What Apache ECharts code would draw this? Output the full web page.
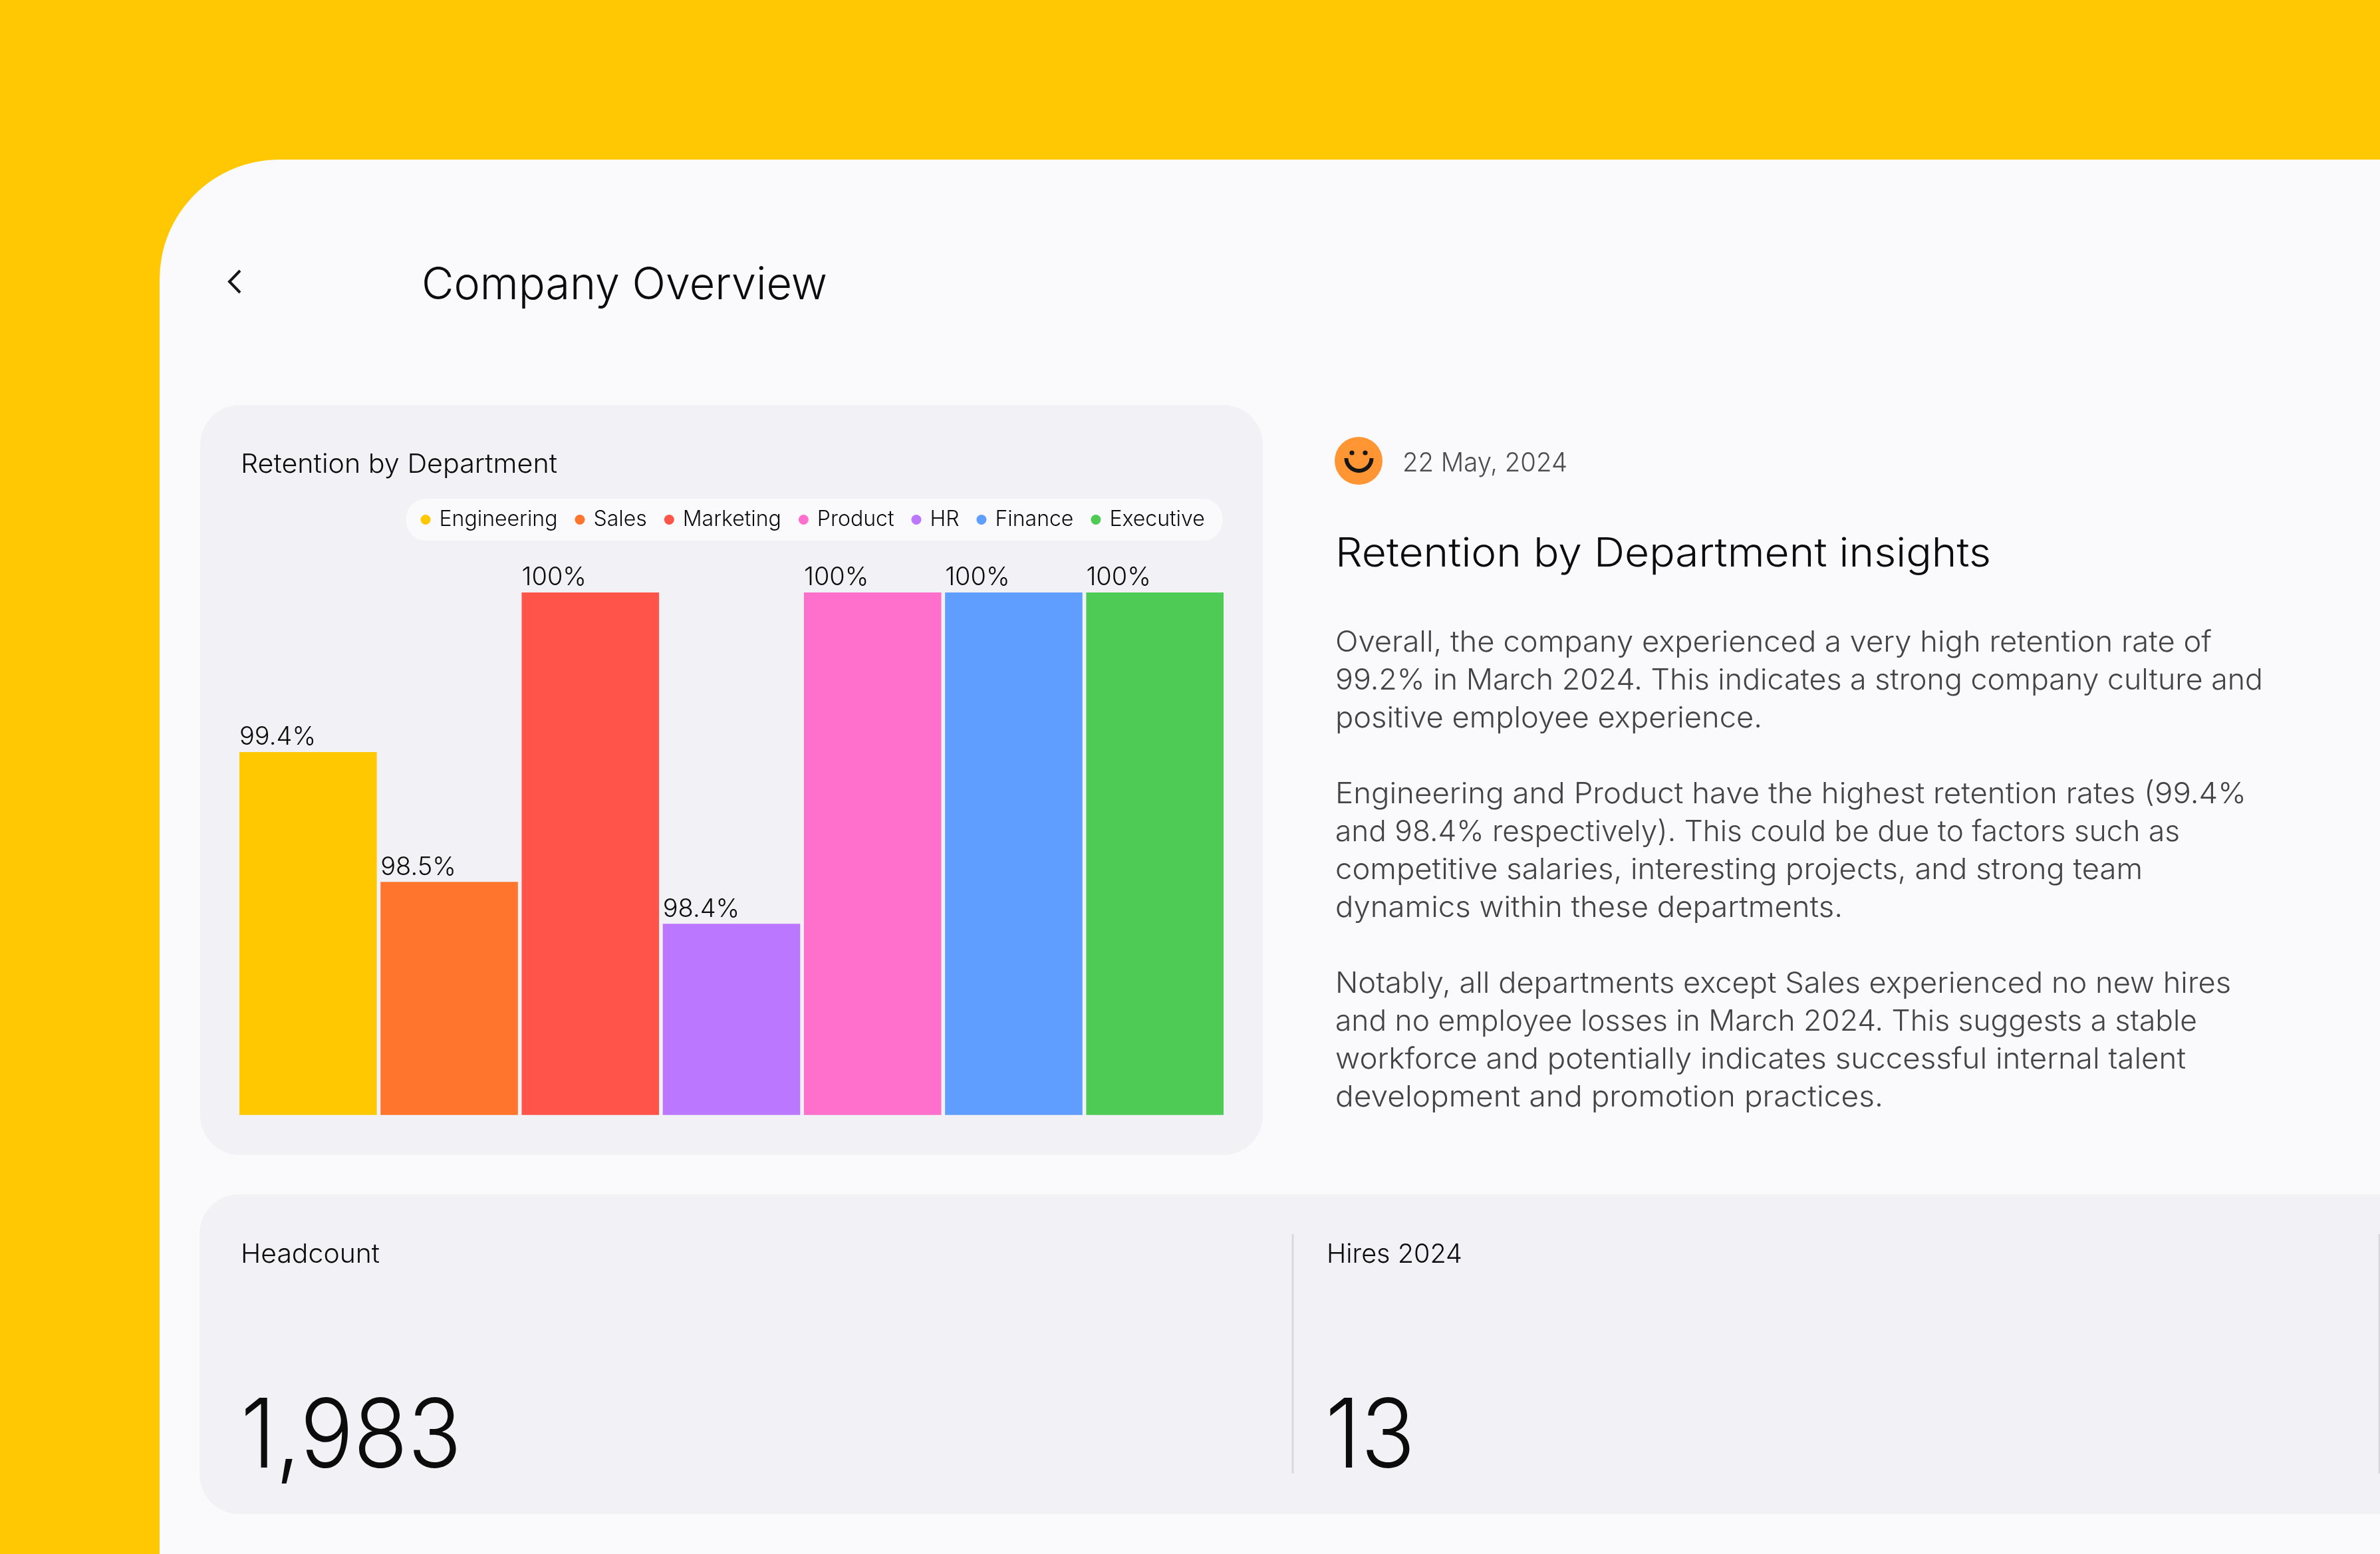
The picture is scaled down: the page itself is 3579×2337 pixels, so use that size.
<!DOCTYPE html>
<html><head><meta charset="utf-8">
<style>html,body{margin:0;padding:0;background:#FFC803}#c{width:3579px;height:2337px}</style>
<script src="https://cdn.jsdelivr.net/npm/echarts@6/dist/echarts.min.js"></script>
</head><body><div id="c"></div>
<script>
// Department order along the axis
const departments = ['Engineering','Sales','Marketing','HR','Product','Finance','Executive'];
// Legend order in the picture
const legendOrder = ['Engineering','Sales','Marketing','Product','HR','Finance','Executive'];
// Drawn bar height as share of the tallest bar
const barHeights = [69.45,44.6,100,36.6,100,100,100];
// Printed labels above the bars
const barLabels = ['99.4%','98.5%','100%','98.4%','100%','100%','100%'];
const barColors = ['#FFC800','#FF752D','#FF5449','#BB77FF','#FF70CC','#5F9DFF','#4ECB55'];
const title = 'Company Overview';
const cardTitle = 'Retention by Department';
const dateText = '22 May, 2024';
const insightsTitle = 'Retention by Department insights';
const insightLines = [
 'Overall, the company experienced a very high retention rate of',
 '99.2% in March 2024. This indicates a strong company culture and',
 'positive employee experience.',
 '',
 'Engineering and Product have the highest retention rates (99.4%',
 'and 98.4% respectively). This could be due to factors such as',
 'competitive salaries, interesting projects, and strong team',
 'dynamics within these departments.',
 '',
 'Notably, all departments except Sales experienced no new hires',
 'and no employee losses in March 2024. This suggests a stable',
 'workforce and potentially indicates successful internal talent',
 'development and promotion practices.'
];
// Right end of each line in the picture
const insightLineEnds = [3326,3403,2650,0,3378,3278,3222,2771,0,3355,3304,3287,2832];
const kpiNames = ['Headcount','Hires 2024'];
const kpiValues = ['1,983','13'];

const FONT = 'Inter';
const ctx = document.createElement('canvas').getContext('2d');
function measure(text,size,weight){ ctx.font = weight+' '+size+'px '+FONT; return ctx.measureText(text).width; }
// sx: horizontal fit factor so the line keeps the picture's width
function txt(text,x,base,size,weight,fill,sx){
  return {type:'text',z:1,silent:true,x,y:base-size*0.30,scaleX:sx,scaleY:1,
    style:{text,x:0,y:0,fontFamily:FONT,fontSize:size,fontWeight:weight,fill,verticalAlign:'middle',align:'left'}};
}
function fit(text,size,weight,width){ return width/measure(text,size,weight); }
const g = [
 {type:'rect',z:0,silent:true,shape:{x:240,y:240,width:3600,height:2400,r:180},style:{fill:'#FAFAFC'}},
 {type:'rect',z:0,silent:true,shape:{x:301,y:609,width:1598,height:1128,r:60},style:{fill:'#F2F2F6'}},
 {type:'rect',z:0,silent:true,shape:{x:300,y:1796,width:3500,height:481,r:60},style:{fill:'#F2F2F6'}},
 {type:'line',z:1,silent:true,shape:{x1:1944,y1:1856,x2:1944,y2:2216},style:{stroke:'#D9D9DD',lineWidth:3}},
 {type:'line',z:1,silent:true,shape:{x1:3578,y1:1856,x2:3578,y2:2216},style:{stroke:'#D9D9DD',lineWidth:3}},
 {type:'polyline',z:1,silent:true,shape:{points:[[361,407],[345,423.5],[361,440]]},style:{stroke:'#161616',lineWidth:4,fill:null}},
 {type:'circle',z:1,silent:true,shape:{cx:2043,cy:693,r:36},style:{fill:'#FF9533'}},
 {type:'circle',z:1,silent:true,shape:{cx:2033,cy:681,r:3.6},style:{fill:'#161616'}},
 {type:'circle',z:1,silent:true,shape:{cx:2053,cy:681,r:3.6},style:{fill:'#161616'}},
 {type:'arc',z:1,silent:true,shape:{cx:2043.5,cy:689,r:19,startAngle:0,endAngle:Math.PI,clockwise:true},style:{stroke:'#161616',lineWidth:6,fill:null}},
 txt(title,634,450,67,300,'#0c0c0c',fit(title,67,300,610)),
 txt(cardTitle,362,711,40,300,'#0c0c0c',fit(cardTitle,40,300,476)),
 txt(dateText,2109,709,40,300,'#4c4c51',fit(dateText,40,300,248)),
 txt(insightsTitle,2008,852,60,300,'#0c0c0c',fit(insightsTitle,60,300,986)),
 txt(kpiNames[0],362,1899,40,300,'#0c0c0c',fit(kpiNames[0],40,300,209)),
 txt(kpiNames[1],1995,1899,40,300,'#0c0c0c',fit(kpiNames[1],40,300,204)),
 txt(kpiValues[0],362,2207,144,300,'#0c0c0c',fit(kpiValues[0],144,300,332)),
 txt(kpiValues[1],1993,2207,144,300,'#0c0c0c',fit(kpiValues[1],144,300,135))
];
insightLines.forEach((l,i)=>{ if(l) g.push(txt(l,2008,980+57*i,44,300,'#434348',fit(l,44,300,insightLineEnds[i]-2008))); });

const series = departments.map((d,i)=>({
  name:d,type:'bar',stack:'all',barCategoryGap:'2.65%',
  itemStyle:{color:barColors[i]},
  label:{show:true,position:[0,-3],align:'left',verticalAlign:'bottom',formatter:()=>barLabels[i],
    fontFamily:FONT,fontSize:38,fontWeight:300,color:'#0c0c0c'},
  data:departments.map((_,j)=>j===i?barHeights[i]:null)
}));
const chart = echarts.init(document.getElementById('c'),null,{renderer:'canvas'});
chart.setOption({
  animation:false,
  backgroundColor:'#FFC803',
  graphic:{elements:g},
  grid:{left:357.2,width:1485.6,top:891,height:785.7},
  xAxis:{type:'category',data:departments,show:false},
  yAxis:{type:'value',min:0,max:100,show:false},
  legend:{
    data:legendOrder.map(name=>({name})),
    left:610.5,top:750,icon:'circle',itemWidth:15,itemHeight:15,itemGap:26,
    selectedMode:false,backgroundColor:'#FAFAFC',borderRadius:30,
    padding:[14,27,14,22],
    textStyle:{fontFamily:FONT,fontSize:32,fontWeight:300,color:'#0c0c0c',lineHeight:32,padding:[3,0,0,8]}
  },
  series
});
</script></body></html>
